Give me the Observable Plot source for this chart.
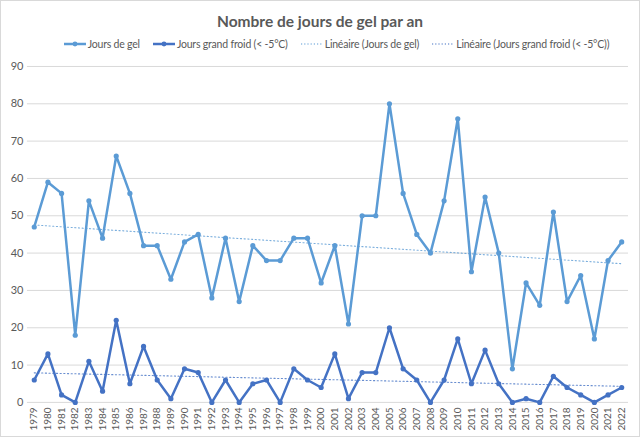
<!DOCTYPE html>
<html><head><meta charset="utf-8">
<script src="https://cdn.jsdelivr.net/npm/d3@7"></script>
<script src="https://cdn.jsdelivr.net/npm/@observablehq/plot@0.6"></script>
<style>
body{margin:0;background:#fff;}
#wrap{width:640px;height:437px;box-sizing:border-box;border:1px solid #d9d9d9;font-family:Lato,"Open Sans",sans-serif;position:relative;overflow:hidden;background:#fff}
#title{position:absolute;top:11px;left:0;width:100%;text-align:center;font-size:15.5px;font-weight:bold;color:#595959;}
#legend{position:absolute;top:37px;left:0;width:100%;box-sizing:border-box;padding-left:32px;display:flex;justify-content:center;gap:12px;font-size:10.5px;letter-spacing:-0.2px;color:#595959;align-items:center}
#legend span.item{display:flex;align-items:center;gap:1px}
#chart{position:absolute;top:55px;left:0}
</style></head>
<body><div id="wrap"><div id="title">Nombre de jours de gel par an</div><div id="legend"></div><div id="chart"></div></div>
<script>
const years = [1979,1980,1981,1982,1983,1984,1985,1986,1987,1988,1989,1990,1991,1992,1993,1994,1995,1996,1997,1998,1999,2000,2001,2002,2003,2004,2005,2006,2007,2008,2009,2010,2011,2012,2013,2014,2015,2016,2017,2018,2019,2020,2021,2022];
const joursGel = [47,59,56,18,54,44,66,56,42,42,33,43,45,28,44,27,42,38,38,44,44,32,42,21,50,50,80,56,45,40,54,76,35,55,40,9,32,26,51,27,34,17,38,43];
const joursFroid = [6,13,2,0,11,3,22,5,15,6,1,9,8,0,6,0,5,6,0,9,6,4,13,1,8,8,20,9,6,0,6,17,5,14,5,0,1,0,7,4,2,0,2,4];
const yTicks = [0,10,20,30,40,50,60,70,80,90];
const seriesNames = ["Jours de gel","Jours grand froid (< -5°C)","Linéaire (Jours de gel)","Linéaire (Jours grand froid (< -5°C))"];
const cGel = "#5B9BD5", cFroid = "#4472C4";

const data = years.map((y,i)=>({year:y, gel:joursGel[i], froid:joursFroid[i]}));

const chart = Plot.plot({
  width: 640, height: 382,
  marginTop: 10, marginBottom: 35, marginLeft: 26, marginRight: 11,
  style: {fontFamily: "Lato, 'Open Sans', sans-serif", fontSize: "11px", color: "#595959", background: "transparent"},
  x: {type: "linear", domain: [1978.5, 2022.5]},
  y: {domain: [0, 90]},
  marks: [
    Plot.gridY(yTicks, {stroke: "#d9d9d9", strokeOpacity: 1, strokeWidth: 1}),
    Plot.linearRegressionY(data, {x: "year", y: "gel", stroke: cGel, strokeWidth: 1.1, strokeOpacity: 0.8, strokeDasharray: "1.2,2.5", ci: 0}),
    Plot.linearRegressionY(data, {x: "year", y: "froid", stroke: cFroid, strokeWidth: 1.1, strokeOpacity: 0.8, strokeDasharray: "1.2,2.5", ci: 0}),
    Plot.lineY(data, {x: "year", y: "gel", stroke: cGel, strokeWidth: 2.5}),
    Plot.dot(data, {x: "year", y: "gel", fill: cGel, r: 2.6}),
    Plot.lineY(data, {x: "year", y: "froid", stroke: cFroid, strokeWidth: 2.5}),
    Plot.dot(data, {x: "year", y: "froid", fill: cFroid, r: 2.6}),
    Plot.axisY(yTicks, {tickSize: 0, tickPadding: 4, label: null, fontSize: 11, fill: "#595959"}),
    Plot.axisX(years, {tickSize: 0, tickPadding: 5, tickRotate: -90, tickFormat: d => String(d), label: null, fontSize: 10, fill: "#595959"})
  ]
});
document.getElementById("chart").append(chart);

const leg = document.getElementById("legend");
const styles = [
  {c: cGel, dot: true, dash: null},
  {c: cFroid, dot: true, dash: null},
  {c: cGel, dot: false, dash: "1.2,2"},
  {c: cFroid, dot: false, dash: "1.2,2"}
];
seriesNames.forEach((n,i)=>{
  const s = styles[i];
  const item = document.createElement("span");
  item.className = "item";
  const sw = `<svg width="24" height="10"><line x1="1" x2="23" y1="5" y2="5" stroke="${s.c}" stroke-width="${s.dot?2.5:1.1}" ${s.dash?`stroke-dasharray="${s.dash}"`:""}/>${s.dot?`<circle cx="12" cy="5" r="2.4" fill="${s.c}"/>`:""}</svg>`;
  item.innerHTML = sw + `<span>${n}</span>`;
  leg.append(item);
});
</script>
</body></html>
